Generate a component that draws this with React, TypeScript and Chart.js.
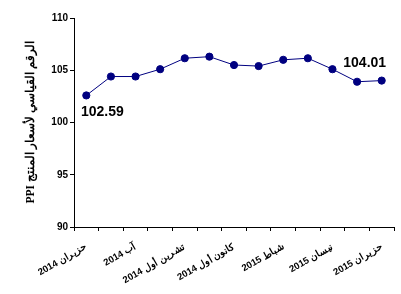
import React, { useEffect, useRef } from "react";
import { Chart, registerables } from "chart.js";

Chart.register(...registerables);

const months = [
  "حزيران", "تموز", "آب", "أيلول", "تشرين أول", "تشرين ثاني", "كانون أول",
  "كانون ثاني", "شباط", "آذار", "نيسان", "أيار", "حزيران",
];
const years = [2014, 2014, 2014, 2014, 2014, 2014, 2014, 2015, 2015, 2015, 2015, 2015, 2015];
const ppiValues = [102.59, 104.4, 104.4, 105.1, 106.15, 106.3, 105.5, 105.4, 106.0, 106.15, 105.1, 103.9, 104.01];
const labelledIndices = [0, 12];
const yTitle = "PPI الرقم القياسي لأسعار المنتج";

const categories = months.map((m, i) => `${years[i]} ${m}`);

const dataLabelPlugin = {
  id: "dataLabels",
  afterDatasetsDraw(chart: any) {
    const meta = chart.getDatasetMeta(0);
    const ctx = chart.ctx;
    ctx.save();
    ctx.font = "bold 14px 'Liberation Sans', Arial, sans-serif";
    ctx.fillStyle = "#000000";
    ctx.textAlign = "center";
    ctx.textBaseline = "middle";
    labelledIndices.forEach((idx, k) => {
      const pt = meta.data[idx];
      const dx = k === 0 ? 16 : -17;
      const dy = k === 0 ? 17 : -17;
      ctx.fillText(ppiValues[idx].toFixed(2), pt.x + dx, pt.y + dy);
    });
    ctx.restore();
  },
};

export default function App() {
  const canvasRef = useRef<HTMLCanvasElement | null>(null);

  useEffect(() => {
    if (!canvasRef.current) return;
    const chart = new Chart(canvasRef.current, {
      type: "line",
      data: {
        labels: categories,
        datasets: [
          {
            data: ppiValues,
            borderColor: "#000080",
            backgroundColor: "#000080",
            borderWidth: 1,
            pointRadius: 3.6,
            pointBorderWidth: 1,
            pointBackgroundColor: "#000080",
            pointBorderColor: "#000080",
            tension: 0,
          },
        ],
      },
      plugins: [dataLabelPlugin],
      options: {
        animation: false,
        responsive: false,
        maintainAspectRatio: false,
        layout: { padding: { top: 18, right: 7, left: 0, bottom: 0 } },
        plugins: {
          legend: { display: false },
          tooltip: { enabled: false },
        },
        scales: {
          x: {
            type: "category",
            offset: true,
            afterFit: (scale: any) => {
              scale.height = 67;
            },
            grid: {
              offset: true,
              drawOnChartArea: false,
              drawTicks: true,
              tickLength: 4,
              color: "#000000",
            },
            border: { color: "#000000", width: 1 },
            ticks: {
              autoSkip: false,
              maxRotation: 30,
              minRotation: 30,
              padding: 10,
              color: "#000000",
              font: { family: "'Liberation Sans', Arial, sans-serif", size: 9.5, weight: "bold" },
              callback: (_v: any, i: number) => (i % 2 === 0 ? categories[i] : ""),
            },
          },
          y: {
            min: 90,
            max: 110,
            afterFit: (scale: any) => {
              scale.width = 74;
            },
            grid: {
              drawOnChartArea: false,
              drawTicks: true,
              tickLength: 4,
              color: "#000000",
            },
            border: { color: "#000000", width: 1 },
            ticks: {
              stepSize: 5,
              padding: 2,
              color: "#000000",
              font: { family: "'Liberation Sans', Arial, sans-serif", size: 10, weight: "bold" },
            },
            title: {
              display: true,
              text: yTitle,
              color: "#000000",
              padding: { top: 24, bottom: 0 },
              font: { family: "'Liberation Serif', 'Times New Roman', serif", size: 11.5, weight: "bold" },
            },
          },
        },
      },
    });
    return () => chart.destroy();
  }, []);

  return (
    <div style={{ position: "fixed", left: 0, top: 0, width: 401, height: 294, background: "#ffffff" }}>
      <canvas ref={canvasRef} width={401} height={294} style={{ width: 401, height: 294 }} />
    </div>
  );
}
